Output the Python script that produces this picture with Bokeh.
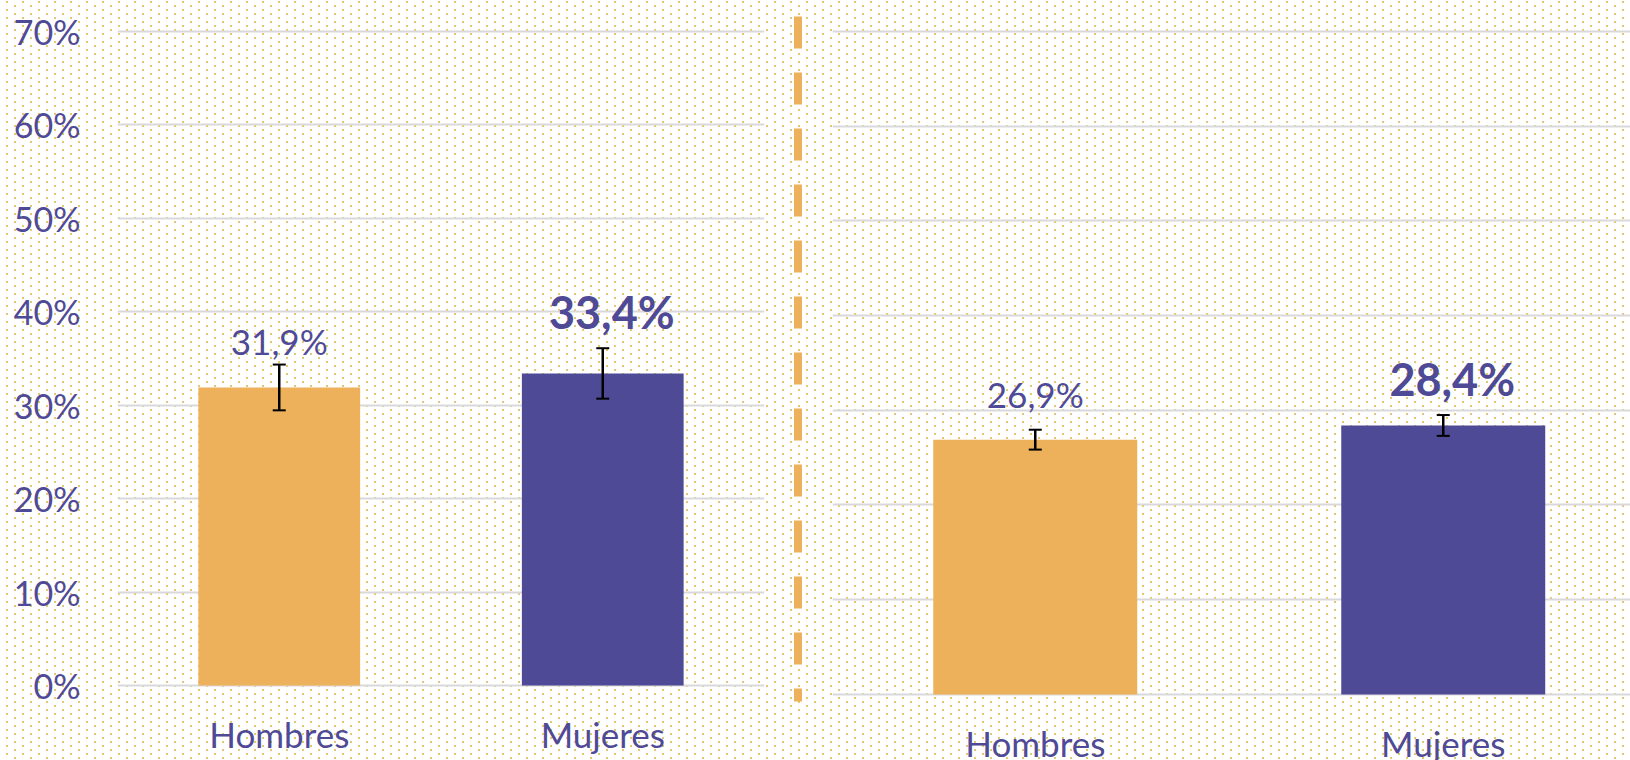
from bokeh.plotting import figure
from bokeh.layouts import row
from bokeh.models import (FactorRange, Range1d, FixedTicker, NumeralTickFormatter,
                          ColumnDataSource, Whisker, TeeHead, Grid)
from bokeh.core.properties import value
from bokeh.embed import file_html
from bokeh.resources import INLINE
import numpy as np

# ---------------- data ----------------
categories = ["Hombres", "Mujeres"]
left_values = [0.319, 0.334]
left_errors = [0.0245, 0.027]
right_values = [0.269, 0.284]
right_errors = [0.0105, 0.011]
y_ticks = [0.0, 0.1, 0.2, 0.3, 0.4, 0.5, 0.6, 0.7]

# ---------------- style ----------------
ORANGE = "#EDB05B"
PURPLE = "#4F4A96"
TEXT = "#4F4A96"
GRID = "#D9D9D9"
DOT = "#E5C673"
FONT = "Lato"
bar_colors = [ORANGE, PURPLE]
H = 760
TOP = 12  # common top border of all panels


def fmt(v):
    return f"{v * 100:.1f}".replace(".", ",") + "%"


def transparent(p):
    p.background_fill_color = None
    p.border_fill_color = None
    p.outline_line_color = None


def set_grid(p):
    p.xgrid.visible = False
    if len(p.ygrid) == 0:
        p.add_layout(Grid(dimension=1, ticker=FixedTicker(ticks=y_ticks)), "center")
    p.ygrid.ticker = FixedTicker(ticks=y_ticks)
    p.ygrid.grid_line_color = GRID
    p.ygrid.grid_line_width = 2


def panel(p, xs, vals, errs):
    upper = [v + e for v, e in zip(vals, errs)]
    lower = [v - e for v, e in zip(vals, errs)]
    src = ColumnDataSource(dict(x=xs, top=vals, upper=upper, lower=lower,
                                color=bar_colors))
    p.vbar(x="x", top="top", bottom=0, width=0.5, fill_color="color",
           line_color=None, source=src)
    p.add_layout(Whisker(base="x", upper="upper", lower="lower", source=src,
                         line_color="black", line_width=2.5, level="annotation",
                         upper_head=TeeHead(size=13, line_width=2, line_color="black"),
                         lower_head=TeeHead(size=13, line_width=2, line_color="black")))
    # value labels: first (Hombres) regular, second (Mujeres) bold
    s0 = ColumnDataSource(dict(x=xs[:1], y=vals[:1], t=[fmt(v) for v in vals[:1]]))
    s1 = ColumnDataSource(dict(x=xs[1:], y=upper[1:], t=[fmt(v) for v in vals[1:]]))
    p.text(x="x", y="y", text="t", source=s0, text_align="center",
           text_baseline="alphabetic", y_offset=-46, text_color=TEXT,
           text_font=value(FONT), text_font_size="35px")
    p.text(x="x", y="y", text="t", source=s1, text_align="center",
           text_baseline="alphabetic", y_offset=-36, x_offset=9, text_color=TEXT,
           text_font=value(FONT), text_font_size="45px", text_font_style="bold")
    # category labels below the baseline
    sc = ColumnDataSource(dict(x=xs, y=[0] * len(xs), t=categories))
    p.text(x="x", y="y", text="t", source=sc, text_align="center",
           text_baseline="alphabetic", y_offset=49, text_color=TEXT,
           text_font=value(FONT), text_font_size="35px")


# ---------------- left panel ----------------
pl = figure(width=780, height=H, x_range=FactorRange(factors=categories),
            y_range=Range1d(-0.0803, 0.72034), x_axis_location=None,
            output_backend="svg", toolbar_location=None,
            min_border_left=117, min_border_right=16, min_border_top=TOP, min_border_bottom=0)
transparent(pl)
set_grid(pl)
pl.yaxis.ticker = FixedTicker(ticks=y_ticks)
pl.yaxis.formatter = NumeralTickFormatter(format="0%")
pl.yaxis.axis_line_color = None
pl.yaxis.major_tick_line_color = None
pl.yaxis.minor_tick_line_color = None
pl.yaxis.major_label_standoff = 31
pl.yaxis.major_label_text_font = FONT
pl.yaxis.major_label_text_font_size = "34px"
pl.yaxis.major_label_text_color = TEXT
panel(pl, categories, left_values, left_errors)

# ---------------- separator (pixel-unit frame) ----------------
pm = figure(width=35, height=H, x_range=Range1d(0, 35), y_range=Range1d(0, H - TOP),
            x_axis_location=None, y_axis_location=None,
            output_backend="svg", toolbar_location=None,
            min_border_left=0, min_border_right=0, min_border_top=TOP, min_border_bottom=0)
transparent(pm)
pm.xgrid.visible = False
pm.ygrid.visible = False
SEP_X, SEP_TOP, SEP_BOTTOM = 17.5, H - 16, H - 701
pm.segment(x0=[SEP_X], y0=[SEP_TOP], x1=[SEP_X], y1=[SEP_BOTTOM], line_color=ORANGE,
           line_width=8, line_dash="32 24", line_cap="butt")

# ---------------- right panel ----------------
right_x = list(np.arange(len(categories)) + 0.5)
pr = figure(width=815, height=H, x_range=Range1d(0.003, 1.959),
            y_range=Range1d(-0.0698, 0.72006), x_axis_location=None, y_axis_location=None,
            output_backend="svg", toolbar_location=None,
            min_border_left=17, min_border_right=0, min_border_top=TOP, min_border_bottom=0)
transparent(pr)
set_grid(pr)
panel(pr, right_x, right_values, right_errors)

dot = f"conic-gradient(from 270deg at 2px 2px, {DOT} 25%, transparent 0)"
layout = row(pl, pm, pr, styles={
    "background-color": "white",
    "background-image": f"{dot}, {dot}",
    "background-size": "16px 8px",
    "background-position": "6px 1px, 14px 5px",
})
open("out.html", "w").write(file_html(layout, INLINE))
